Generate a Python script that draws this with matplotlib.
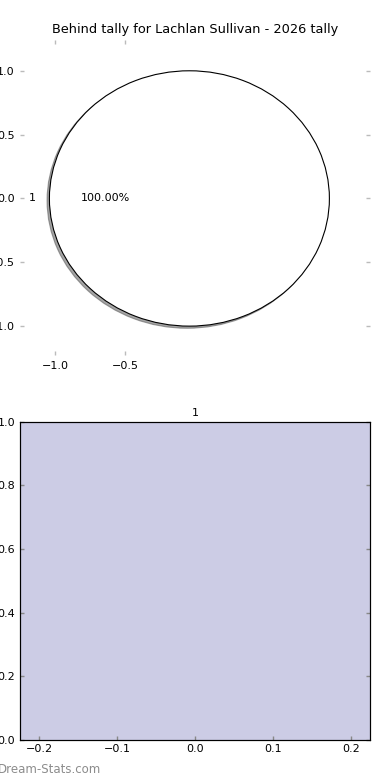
import matplotlib
matplotlib.use("Agg")
import matplotlib.pyplot as plt

# tally data
pie_labels = ['1']
pie_values = [1]
bar_categories = ['1']
bar_values = [1.0]
title = 'Behind tally for Lachlan Sullivan - 2026 tally'

fig = plt.figure(figsize=(3.9, 7.8), dpi=100)

# top panel: pie with shadow, frame off but ticks kept
ax = fig.add_axes([0.0513, 0.5449, 0.8974, 0.4038])
ax.pie(pie_values, labels=pie_labels, autopct='%.2f%%',
       shadow={'ox': -0.012, 'oy': -0.012, 'shade': 0.7},
       colors=['white'], center=(-0.04, 0), frame=True,
       wedgeprops={'edgecolor': 'black', 'linewidth': 0.8},
       textprops={'fontsize': 8})
ax.set_aspect('auto')
ax.set_xlim(-1.25, 1.25)
ax.set_ylim(-1.226, 1.241)
ax.set_xticks([-1.0, -0.5])
ax.set_yticks([-1.0, -0.5, 0.0, 0.5, 1.0])
for s in ax.spines.values():
    s.set_visible(False)
ax.tick_params(direction='in', length=3, width=1, color='#bbbbbb',
               labelsize=8, top=True, right=True, pad=4)
ax.set_title(title, fontsize=9.3, pad=5)

# bottom panel: single bar filling the axes
ax2 = fig.add_axes([0.05, 0.0513, 0.8987, 0.4081])
ax2.bar([0], bar_values, width=0.8, color='#000080', alpha=0.2, linewidth=0)
ax2.set_xlim(-0.2256, 0.2244)
ax2.set_ylim(0, 1.0)
ax2.set_xticks([-0.2, -0.1, 0.0, 0.1, 0.2])
ax2.set_yticks([0.0, 0.2, 0.4, 0.6, 0.8, 1.0])
ax2.tick_params(direction='in', length=3, width=1, color='#888888',
                labelsize=8, top=True, right=True, pad=3)
top = ax2.twiny()
top.set_xlim(ax2.get_xlim())
top.set_xticks([0])
top.set_xticklabels(bar_categories)
top.tick_params(direction='in', length=0, labelsize=8, pad=3)

fig.text(-0.005, 0.013, 'Dream-Stats.com', fontsize=8.5, color='#8c8c8c',
         ha='left', va='center')

fig.savefig('out.png', dpi=100)
